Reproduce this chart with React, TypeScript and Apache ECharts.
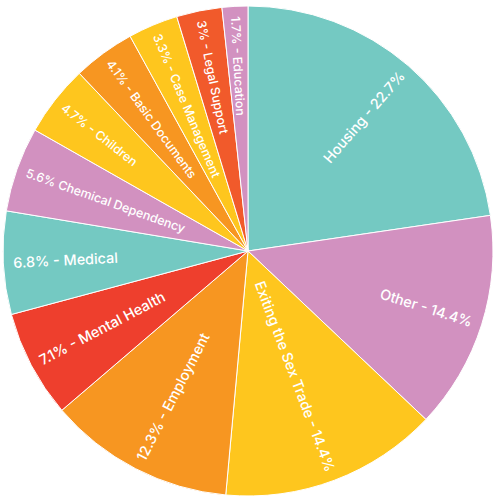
import React, { useEffect, useRef } from "react";
import * as echarts from "echarts";

const categories = [
  "Housing",
  "Other",
  "Exiting the Sex Trade",
  "Employment",
  "Mental Health",
  "Medical",
  "Chemical Dependency",
  "Children",
  "Basic Documents",
  "Case Management",
  "Legal Support",
  "Education",
];
const values = [22.7, 14.4, 14.4, 12.3, 7.1, 6.8, 5.6, 4.7, 4.1, 3.3, 3, 1.7];
const colors = [
  "#74C9C2",
  "#D291C0",
  "#FEC61E",
  "#F79621",
  "#EE3F2D",
  "#74C9C2",
  "#D291C0",
  "#FEC61E",
  "#F79621",
  "#FEC61E",
  "#F15A2B",
  "#D291C0",
];
const labelTexts = [
  "Housing - 22.7%",
  "Other - 14.4%",
  "Exiting the Sex Trade - 14.4%",
  "12.3% - Employment",
  "7.1% - Mental Health",
  "6.8% - Medical",
  "5.6% Chemical Dependency",
  "4.7% - Children",
  "4.1% - Basic Documents",
  "3.3% - Case Management",
  "3% - Legal Support",
  "1.7% - Education",
];

const CX = 248;
const CY = 251;
const R = 245;
const ANCHOR_R = 235;

export default function App() {
  const ref = useRef<HTMLDivElement>(null);
  useEffect(() => {
    if (!ref.current) return;
    const chart = echarts.init(ref.current, null, { renderer: "svg" });
    const total = values.reduce((a, b) => a + b, 0);
    const mids: number[] = [];
    let acc = 0;
    values.forEach((v) => {
      mids.push(((acc + v / 2) / total) * 360);
      acc += v;
    });
    chart.setOption({
      animation: false,
      series: [
        {
          type: "pie",
          center: [CX, CY],
          radius: R,
          startAngle: 90,
          clockwise: true,
          avoidLabelOverlap: false,
          silent: true,
          itemStyle: { borderColor: "#ffffff", borderWidth: 1 },
          labelLine: { show: false },
          label: {
            show: true,
            position: "inside",
            color: "#ffffff",
            fontFamily: "Inter",
            fontWeight: 500,
          },
          labelLayout: (params: any) => {
            const i = params.dataIndex;
            const th = mids[i];
            const rad = (th * Math.PI) / 180;
            const left = th > 180;
            return {
              x: CX + ANCHOR_R * Math.sin(rad),
              y: CY - ANCHOR_R * Math.cos(rad),
              rotate: left ? 270 - th : 90 - th,
              align: left ? "left" : "right",
              verticalAlign: "middle",
            };
          },
          data: categories.map((name, i) => ({
            name,
            value: values[i],
            itemStyle: { color: colors[i] },
            label: {
              formatter: labelTexts[i],
              fontSize: values[i] >= 6.5 ? 14.4 : 12.4,
            },
          })),
        },
      ],
    });
    return () => chart.dispose();
  }, []);
  return (
    <div
      ref={ref}
      style={{ position: "fixed", left: 0, top: 0, width: 500, height: 500, background: "#fff" }}
    />
  );
}
